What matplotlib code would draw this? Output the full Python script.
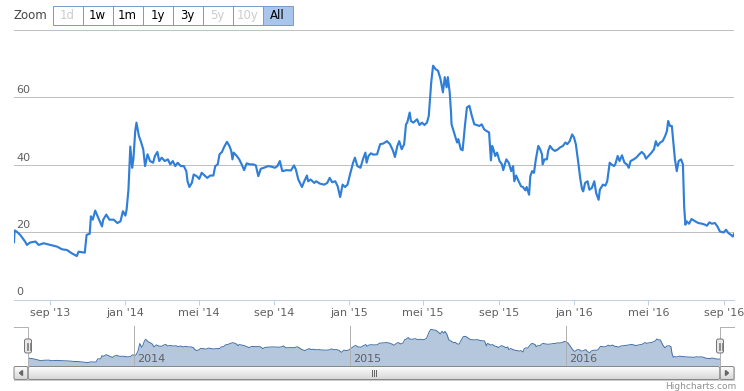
import matplotlib
matplotlib.use('Agg')
import matplotlib.pyplot as plt
from matplotlib.patches import Rectangle, FancyBboxPatch, Polygon
import numpy as np
import pandas as pd

# ---------------- data ----------------
dates = [
    '2013-07-05', '2013-07-06', '2013-07-09', '2013-07-15', '2013-07-23', '2013-07-26', '2013-07-31',
    '2013-08-09', '2013-08-14', '2013-08-22', '2013-09-02', '2013-09-13', '2013-09-21', '2013-09-29',
    '2013-10-07', '2013-10-15', '2013-10-18', '2013-10-24', '2013-10-28', '2013-10-31', '2013-11-05',
    '2013-11-07', '2013-11-10', '2013-11-14', '2013-11-19', '2013-11-25', '2013-11-27', '2013-12-02',
    '2013-12-07', '2013-12-14', '2013-12-20', '2013-12-25', '2013-12-29', '2014-01-02', '2014-01-04',
    '2014-01-07', '2014-01-10', '2014-01-13', '2014-01-15', '2014-01-18', '2014-01-20', '2014-01-24',
    '2014-01-27', '2014-01-31', '2014-02-03', '2014-02-07', '2014-02-11', '2014-02-16', '2014-02-19',
    '2014-02-23', '2014-02-26', '2014-03-02', '2014-03-07', '2014-03-12', '2014-03-16', '2014-03-20',
    '2014-03-24', '2014-03-28', '2014-04-02', '2014-04-07', '2014-04-11', '2014-04-13', '2014-04-16',
    '2014-04-20', '2014-04-23', '2014-04-28', '2014-05-02', '2014-05-06', '2014-05-12', '2014-05-15',
    '2014-05-20', '2014-05-25', '2014-05-28', '2014-06-01', '2014-06-04', '2014-06-08', '2014-06-11',
    '2014-06-16', '2014-06-20', '2014-06-23', '2014-06-25', '2014-06-27', '2014-07-02', '2014-07-06',
    '2014-07-10', '2014-07-14', '2014-07-18', '2014-07-24', '2014-07-29', '2014-08-02', '2014-08-06',
    '2014-08-10', '2014-08-15', '2014-08-22', '2014-08-28', '2014-09-02', '2014-09-06', '2014-09-10',
    '2014-09-14', '2014-09-21', '2014-09-28', '2014-10-03', '2014-10-06', '2014-10-10', '2014-10-16',
    '2014-10-19', '2014-10-24', '2014-10-26', '2014-10-30', '2014-11-05', '2014-11-08', '2014-11-14',
    '2014-11-21', '2014-11-26', '2014-11-30', '2014-12-04', '2014-12-09', '2014-12-13', '2014-12-17',
    '2014-12-21', '2014-12-25', '2014-12-29', '2015-01-02', '2015-01-07', '2015-01-10', '2015-01-14',
    '2015-01-19', '2015-01-23', '2015-01-27', '2015-01-29', '2015-02-01', '2015-02-05', '2015-02-09',
    '2015-02-15', '2015-02-20', '2015-02-25', '2015-03-03', '2015-03-08', '2015-03-13', '2015-03-16',
    '2015-03-20', '2015-03-23', '2015-03-27', '2015-03-31', '2015-04-03', '2015-04-05', '2015-04-09',
    '2015-04-11', '2015-04-15', '2015-04-21', '2015-04-25', '2015-04-29', '2015-05-03', '2015-05-07',
    '2015-05-10', '2015-05-13', '2015-05-14', '2015-05-17', '2015-05-21', '2015-05-25', '2015-05-29',
    '2015-06-02', '2015-06-05', '2015-06-08', '2015-06-10', '2015-06-13', '2015-06-15', '2015-06-16',
    '2015-06-20', '2015-06-25', '2015-06-27', '2015-07-01', '2015-07-04', '2015-07-08', '2015-07-11',
    '2015-07-15', '2015-07-19', '2015-07-23', '2015-07-27', '2015-07-31', '2015-08-04', '2015-08-08',
    '2015-08-12', '2015-08-16', '2015-08-19', '2015-08-21', '2015-08-23', '2015-08-26', '2015-08-29',
    '2015-09-02', '2015-09-06', '2015-09-08', '2015-09-13', '2015-09-17', '2015-09-21', '2015-09-24',
    '2015-09-26', '2015-09-29', '2015-10-03', '2015-10-07', '2015-10-10', '2015-10-14', '2015-10-16',
    '2015-10-20', '2015-10-22', '2015-10-25', '2015-10-28', '2015-10-31', '2015-11-04', '2015-11-07',
    '2015-11-10', '2015-11-11', '2015-11-14', '2015-11-18', '2015-11-20', '2015-11-23', '2015-11-27',
    '2015-12-01', '2015-12-06', '2015-12-09', '2015-12-14', '2015-12-18', '2015-12-21', '2015-12-25',
    '2015-12-29', '2016-01-01', '2016-01-04', '2016-01-08', '2016-01-11', '2016-01-14', '2016-01-16',
    '2016-01-19', '2016-01-23', '2016-01-26', '2016-01-30', '2016-02-03', '2016-02-06', '2016-02-10',
    '2016-02-12', '2016-02-17', '2016-02-21', '2016-02-24', '2016-02-28', '2016-03-02', '2016-03-06',
    '2016-03-08', '2016-03-12', '2016-03-15', '2016-03-19', '2016-03-23', '2016-03-27', '2016-03-30',
    '2016-04-02', '2016-04-07', '2016-04-11', '2016-04-16', '2016-04-20', '2016-04-24', '2016-04-27',
    '2016-05-01', '2016-05-06', '2016-05-10', '2016-05-13', '2016-05-16', '2016-05-20', '2016-05-24',
    '2016-05-28', '2016-05-31', '2016-06-02', '2016-06-05', '2016-06-08', '2016-06-11', '2016-06-13',
    '2016-06-16', '2016-06-19', '2016-06-23', '2016-06-26', '2016-06-28', '2016-06-30', '2016-07-02',
    '2016-07-06', '2016-07-10', '2016-07-16', '2016-07-21', '2016-07-27', '2016-08-01', '2016-08-04',
    '2016-08-08', '2016-08-12', '2016-08-17', '2016-08-21', '2016-08-25', '2016-08-31', '2016-09-04',
    '2016-09-08', '2016-09-12', '2016-09-15', '2016-09-17',
]
values = [
    17.0, 20.5, 20.2, 19.2, 17.2, 16.2, 16.9,
    17.2, 16.2, 16.7, 16.2, 15.7, 14.9, 14.7,
    13.7, 12.9, 14.2, 14.0, 13.9, 19.2, 19.5,
    24.7, 23.7, 26.4, 24.2, 21.7, 23.7, 25.2,
    23.7, 23.7, 22.7, 23.2, 26.2, 24.9, 26.7,
    32.6, 45.4, 39.1, 41.6, 50.0, 52.5, 48.5,
    47.0, 44.6, 39.6, 43.1, 41.1, 40.6, 42.6,
    43.8, 41.1, 42.1, 41.1, 41.6, 40.1, 41.1,
    39.6, 40.6, 39.6, 39.6, 38.1, 35.1, 33.4,
    34.6, 37.1, 36.6, 35.8, 37.6, 36.6, 36.1,
    36.8, 36.8, 39.6, 40.1, 43.1, 43.8, 45.1,
    46.8, 45.6, 44.1, 41.6, 43.6, 42.6, 41.6,
    40.1, 38.4, 40.4, 40.1, 40.1, 39.8, 36.6,
    38.8, 39.1, 39.6, 39.4, 39.1, 39.6, 41.1,
    38.1, 38.4, 38.3, 39.8, 38.6, 35.6, 33.4,
    34.8, 36.8, 35.1, 35.6, 34.6, 35.1, 34.4,
    34.1, 34.6, 36.1, 34.8, 35.1, 33.6, 30.4,
    34.1, 33.4, 34.1, 37.1, 40.6, 42.1, 39.6,
    39.1, 41.6, 43.6, 40.6, 42.6, 43.4, 43.0,
    43.1, 46.1, 46.3, 47.0, 46.1, 44.1, 42.3,
    45.6, 47.0, 44.6, 46.1, 52.0, 52.5, 55.5,
    53.0, 52.5, 53.5, 51.8, 52.5, 51.8, 52.5,
    54.5, 62.0, 64.5, 69.4, 68.4, 67.9, 65.5,
    61.5, 66.0, 63.0, 66.0, 61.5, 56.0, 52.0,
    49.6, 46.6, 47.6, 44.6, 44.3, 52.0, 57.0,
    57.5, 54.5, 52.0, 51.8, 51.5, 52.0, 50.5,
    50.0, 49.6, 41.3, 45.6, 44.6, 42.6, 43.6,
    41.1, 40.1, 38.4, 41.6, 40.6, 38.1, 39.6,
    35.1, 36.8, 35.1, 33.6, 33.4, 32.4, 33.4,
    31.1, 36.6, 38.1, 37.6, 41.6, 45.6, 44.6,
    43.1, 40.1, 41.6, 41.6, 44.1, 45.6, 44.6,
    44.1, 44.6, 45.1, 45.6, 46.6, 46.1, 47.0,
    49.0, 48.1, 46.1, 40.6, 36.1, 32.8, 32.1,
    34.6, 35.1, 32.6, 33.1, 35.1, 31.6, 29.6,
    32.6, 34.1, 33.8, 35.1, 40.6, 40.1, 39.6,
    40.1, 42.6, 41.1, 42.8, 40.6, 40.1, 39.1,
    41.1, 41.6, 42.1, 43.1, 43.8, 43.1, 41.8,
    42.6, 43.6, 44.6, 47.0, 45.6, 46.6, 47.0,
    48.5, 50.0, 53.0, 51.5, 51.5, 45.6, 41.6,
    38.1, 41.1, 41.6, 40.1, 27.6, 22.2, 23.2,
    22.5, 23.9, 23.2, 22.7, 22.5, 22.2, 21.9,
    22.9, 22.5, 22.7, 21.7, 20.2, 19.9, 20.7,
    19.7, 19.2, 18.7, 19.5,
]
x_tick_dates = ['2013-09-01', '2014-01-01', '2014-05-01', '2014-09-01', '2015-01-01',
                '2015-05-01', '2015-09-01', '2016-01-01', '2016-05-01', '2016-09-01']
x_tick_labels = ["sep '13", "jan '14", "mei '14", "sep '14", "jan '15",
                 "mei '15", "sep '15", "jan '16", "mei '16", "sep '16"]
y_ticks = [0, 20, 40, 60, 80]
y_labels = ['0', '20', '40', '60']
nav_year_dates = ['2014-01-01', '2015-01-01', '2016-01-01']
nav_year_labels = ['2014', '2015', '2016']
zoom_buttons = ['1d', '1w', '1m', '1y', '3y', '5y', '10y', 'All']
zoom_enabled = [False, True, True, True, True, False, False, True]
zoom_selected = 'All'

# ---------------- figure ----------------
W, H = 744, 391
fig = plt.figure(figsize=(W / 100, H / 100), dpi=100)
fig.patch.set_facecolor('white')
plt.rcParams['font.family'] = ['DejaVu Sans']
PX = 0.72  # points per pixel

def px_axes(x0, y0, x1, y1):
    return fig.add_axes([x0 / W, 1 - y1 / H, (x1 - x0) / W, (y1 - y0) / H])

t = pd.to_datetime(dates)
v = np.array(values)

# main plot
ax = px_axes(14, 30, 734, 299.5)
ax.plot(t, v, color='#2f7ed8', lw=2 * PX + 0.1, solid_joinstyle='round', zorder=3)
ax.set_xlim(t[0], t[-1])
ax.set_ylim(0, 80)
ax.set_yticks(y_ticks)
ax.set_yticklabels([])
ax.tick_params(axis='y', length=0)
ax.grid(axis='y', color='#C0C0C0', lw=PX)
for s in ['top', 'left', 'right']:
    ax.spines[s].set_visible(False)
ax.spines['bottom'].set_color('#C0D0E0')
ax.spines['bottom'].set_linewidth(PX)
ax.spines['bottom'].set_zorder(4)
ax.set_xticks(pd.to_datetime(x_tick_dates))
ax.set_xticklabels(x_tick_labels)
ax.tick_params(axis='x', length=5 * PX, width=PX, color='#C0D0E0', labelsize=8,
               labelcolor='#606060', pad=2.5)
for val, lab in zip(y_ticks, y_labels):
    ax.annotate(lab, xy=(0, val), xycoords=('axes fraction', 'data'),
                xytext=(1.5, 1.5), textcoords='offset points', ha='left', va='bottom',
                fontsize=8, color='#606060')

# navigator
nav = px_axes(28, 326, 720, 366)
vmin, vmax = v.min(), v.max()
span = vmax - vmin
lo, hi = vmin - 0.1 * span, vmax + 0.1 * span
nav.fill_between(t, v, lo, color='#B5C7DC', lw=0, zorder=2)
nav.plot(t, v, color='#4572A7', lw=PX, zorder=3)
nav.set_xlim(t[0], t[-1])
nav.set_ylim(lo, hi)
nav.axis('off')
for d, lab in zip(pd.to_datetime(nav_year_dates), nav_year_labels):
    nav.axvline(d, color='#B0B0B0', lw=PX, zorder=4)
    nav.annotate(lab, xy=(d, 0), xycoords=('data', 'axes fraction'),
                 xytext=(2, 1.5), textcoords='offset points', ha='left', va='bottom',
                 fontsize=8, color='#606060', zorder=5)

# overlay for chrome
ov = fig.add_axes([0, 0, 1, 1])
ov.set_xlim(0, W)
ov.set_ylim(H, 0)
ov.axis('off')

# range selector
ov.text(14, 15.5, 'Zoom', fontsize=8.5, color='#444444', ha='left', va='center')
bx0, bw, by0, bh = 52.5, 30, 5.5, 19
for i, lab in enumerate(zoom_buttons):
    sel = lab == zoom_selected
    fc = '#A9C5EB' if sel else 'white'
    ov.add_patch(Rectangle((bx0 + i * bw, by0), bw, bh, facecolor=fc,
                           edgecolor='#7A9CC8', lw=PX))
    col = 'black' if zoom_enabled[i] else '#CCCCCC'
    ov.text(bx0 + i * bw + bw / 2, by0 + bh / 2 + 0.5, lab, fontsize=8.5, color=col,
            ha='center', va='center')

# navigator outline
oc = '#B2B1B6'
ov.plot([14, 28, 28], [326.5, 326.5, 366], color=oc, lw=PX)
ov.plot([734, 720, 720], [326.5, 326.5, 366], color=oc, lw=PX)

# handles
for hx in (28, 720):
    ov.add_patch(FancyBboxPatch((hx - 3.5, 339), 7, 14, boxstyle='round,pad=0,rounding_size=2',
                                facecolor='#EBE7E8', edgecolor='#777777', lw=PX, zorder=5))
    for dx in (-1.5, 0, 1.5):
        ov.plot([hx + dx, hx + dx], [342.5, 349.5], color='#777777', lw=PX * 0.8, zorder=6)

# scrollbar
sy0, sy1 = 366.5, 379.5
grad = np.linspace(0, 1, 50).reshape(-1, 1)
from matplotlib.colors import LinearSegmentedColormap
cm_track = LinearSegmentedColormap.from_list('trk', ['#EEEEEE', '#FFFFFF'])
cm_bar = LinearSegmentedColormap.from_list('bar', ['#FFFFFF', '#D8D8D8'])
ov.imshow(grad, extent=(14, 734, sy1, sy0), cmap=cm_track, aspect='auto', zorder=1)
ov.add_patch(Rectangle((14, sy0), 720, sy1 - sy0, facecolor='none', edgecolor='#CCCCCC', lw=PX, zorder=2))
# buttons
for bxl in (14, 720):
    ov.imshow(grad, extent=(bxl, bxl + 14, sy1, sy0), cmap=cm_bar, aspect='auto', zorder=3)
    ov.add_patch(FancyBboxPatch((bxl, sy0), 14, sy1 - sy0, boxstyle='round,pad=0,rounding_size=1.5',
                                facecolor='none', edgecolor='#888888', lw=PX, zorder=4))
ov.add_patch(Polygon([[22.5, 370.5], [22.5, 375.5], [19.5, 373]], closed=True, color='#666666', zorder=5))
ov.add_patch(Polygon([[725.5, 370.5], [725.5, 375.5], [728.5, 373]], closed=True, color='#666666', zorder=5))
# bar
ov.imshow(grad, extent=(28, 720, sy1, sy0), cmap=cm_bar, aspect='auto', zorder=3)
ov.add_patch(FancyBboxPatch((28, sy0), 692, sy1 - sy0, boxstyle='round,pad=0,rounding_size=2',
                            facecolor='none', edgecolor='#888888', lw=PX, zorder=4))
for dx in (-2, 0, 2):
    ov.plot([374 + dx, 374 + dx], [370, 376], color='#666666', lw=PX, zorder=5)
ov.set_xlim(0, W)
ov.set_ylim(H, 0)

# credits
ov.text(736, 386.5, 'Highcharts.com', fontsize=6.5, color='#909090', ha='right', va='center')

fig.savefig('out.png', dpi=100)
